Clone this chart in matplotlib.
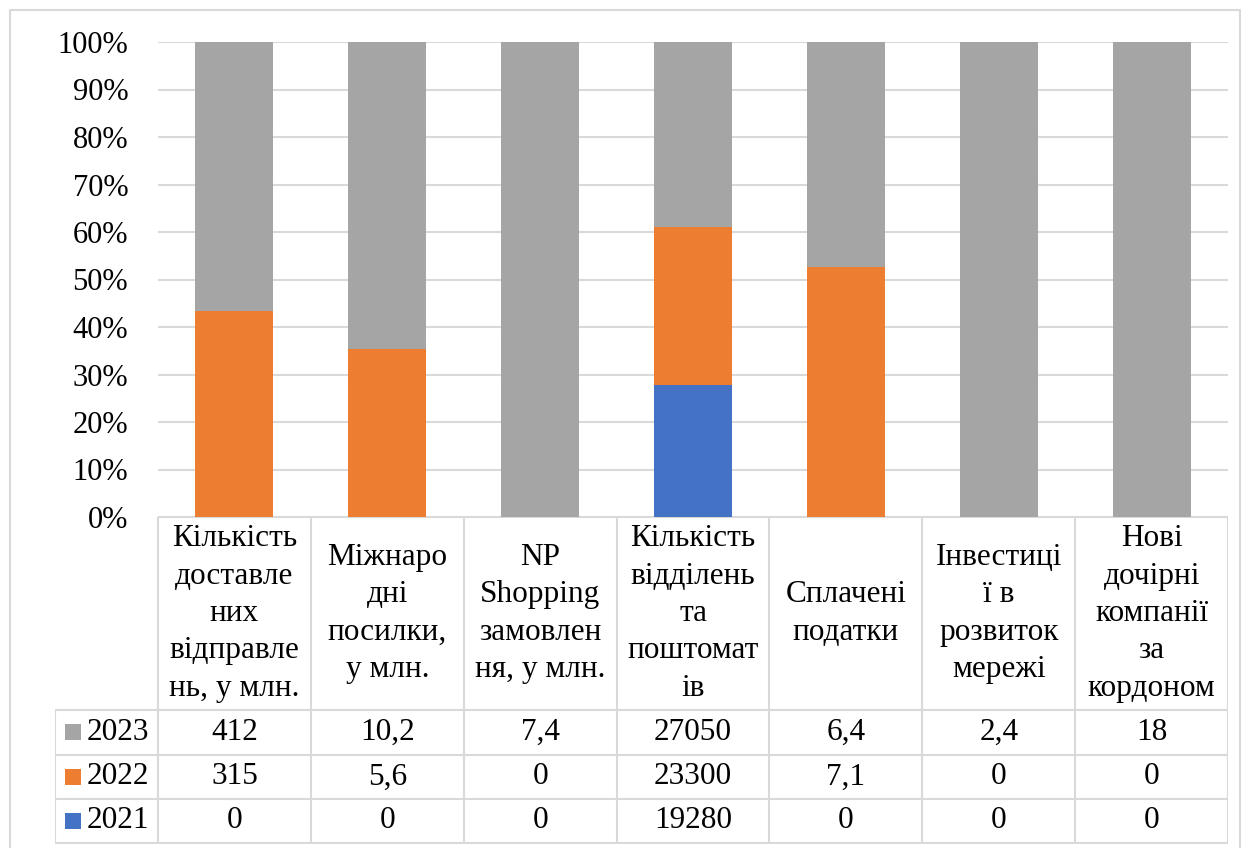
import matplotlib.pyplot as plt
import numpy as np

plt.rcParams['font.family'] = ['Liberation Serif', 'DejaVu Serif']

categories = [
    "Кількість\nдоставле\nних\nвідправле\nнь, у млн.",
    "Міжнаро\nдні\nпосилки,\nу млн.",
    "NP\nShopping\nзамовлен\nня, у млн.",
    "Кількість\nвідділень\nта\nпоштомат\nів",
    "Сплачені\nподатки",
    "Інвестиці\nї в\nрозвиток\nмережі",
    "Нові\nдочірні\nкомпанії\nза\nкордоном",
]
years = ["2021", "2022", "2023"]
v2021 = [0, 0, 0, 19280, 0, 0, 0]
v2022 = [315, 5.6, 0, 23300, 7.1, 0, 0]
v2023 = [412, 10.2, 7.4, 27050, 6.4, 2.4, 18]
colors = {"2021": "#4472C4", "2022": "#ED7D31", "2023": "#A5A5A5"}

W, H = 1245, 848
fig = plt.figure(figsize=(W / 100, H / 100), dpi=100)

# pixel layout
ax_l, ax_r, ax_t, ax_b = 158, 1228, 42, 517
ax = fig.add_axes([ax_l / W, (H - ax_b) / H, (ax_r - ax_l) / W, (ax_b - ax_t) / H])

series = {"2021": np.array(v2021, float), "2022": np.array(v2022, float),
          "2023": np.array(v2023, float)}
total = series["2021"] + series["2022"] + series["2023"]
x = np.arange(len(categories))
bottom = np.zeros(len(categories))
for y in years:
    share = series[y] / total * 100
    ax.bar(x, share, 0.51, bottom=bottom, color=colors[y], zorder=3)
    bottom += share

ax.set_xlim(-0.5, len(categories) - 0.5)
ax.set_ylim(0, 100)
ax.set_yticks(np.arange(0, 101, 10))
ax.set_yticklabels([f"{t}%" for t in range(0, 101, 10)], fontsize=22)
ax.tick_params(axis='y', length=0, pad=21.5)
ax.set_xticks([])
ax.grid(axis='y', color='#D9D9D9', linewidth=1.5, zorder=0)
for s in ax.spines.values():
    s.set_visible(False)

# data table under the bars
tb_l, tb_t, tb_b = 55, 517, 844
unit = (ax_r - ax_l) / len(categories)
tx0 = -0.5 - (ax_l - tb_l) / unit
tab = fig.add_axes([tb_l / W, (H - tb_b) / H, (ax_r - tb_l) / W, (tb_b - tb_t) / H])
tab.set_xlim(tx0, len(categories) - 0.5)
tab.set_ylim(tb_b, tb_t)
tab.axis('off')

row_edges = [517, 710, 755, 799, 843]
lc = '#D9D9D9'
lw = 1.5
# horizontal lines
tab.plot([-0.5, len(categories) - 0.5], [row_edges[0]] * 2, color=lc, lw=lw)
for yy in row_edges[1:]:
    tab.plot([tx0, len(categories) - 0.5], [yy, yy], color=lc, lw=lw)
# vertical lines
tab.plot([tx0, tx0], [row_edges[1], row_edges[-1]], color=lc, lw=lw)
for k in range(len(categories) + 1):
    tab.plot([k - 0.5, k - 0.5], [row_edges[0], row_edges[-1]], color=lc, lw=lw)

for i, c in enumerate(categories):
    tab.text(i, (row_edges[0] + row_edges[1]) / 2, c, ha='center', va='center',
             fontsize=22.5, linespacing=1.38)

sq = 16 / unit
for r, y in enumerate(["2023", "2022", "2021"]):
    yc = (row_edges[r + 1] + row_edges[r + 2]) / 2
    tab.add_patch(plt.Rectangle((tx0 + 10 / unit, yc - 8), sq, 16,
                                color=colors[y], lw=0))
    tab.text(tx0 + 32 / unit, yc, y, ha='left', va='center', fontsize=22.5)
    for i, v in enumerate(series[y]):
        tab.text(i, yc, f"{v:g}".replace('.', ','), ha='center', va='center',
                 fontsize=22.5)

# outer chart frame
frame = fig.add_axes([0, 0, 1, 1], zorder=-1)
frame.set_xlim(0, W)
frame.set_ylim(H, 0)
frame.axis('off')
frame.plot([10, 10, 1240, 1240], [850, 10, 10, 850], color=lc, lw=1.5)

fig.savefig('out.png', dpi=100)
